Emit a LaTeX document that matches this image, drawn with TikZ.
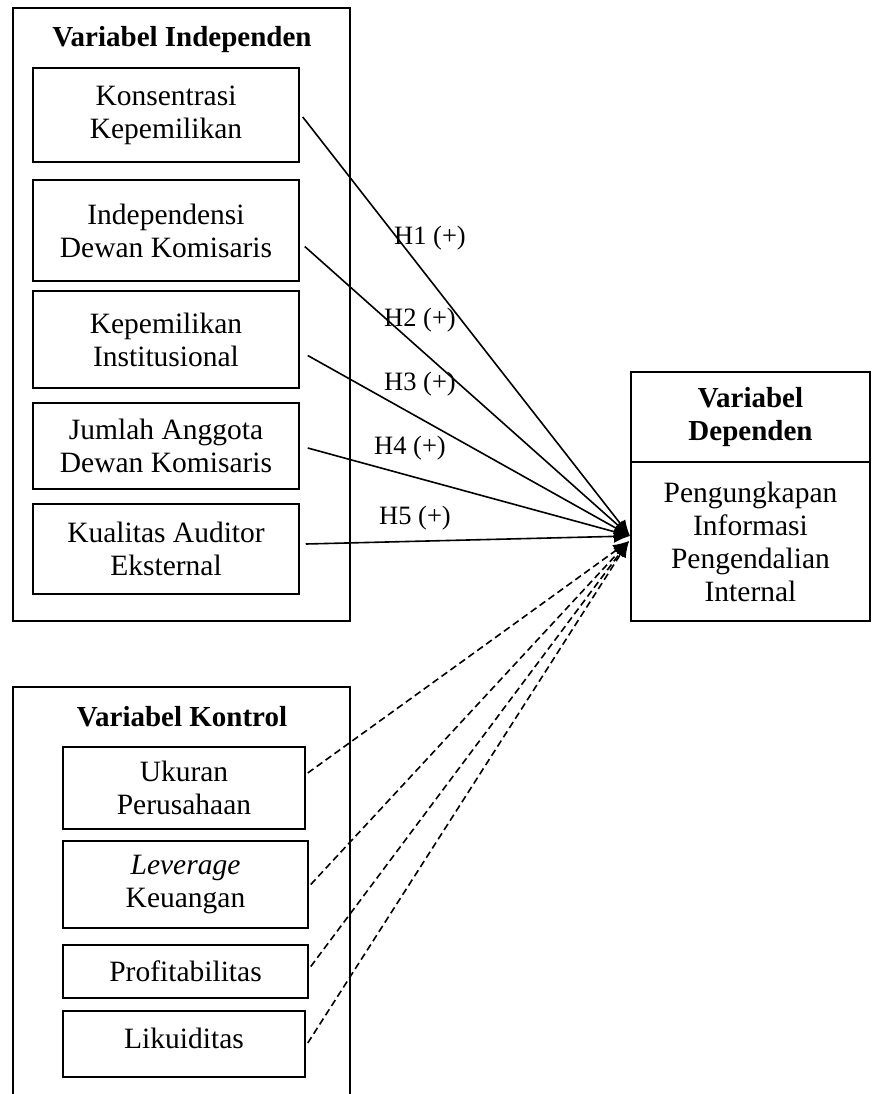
\documentclass[tikz,border=0pt]{standalone}
\usepackage{fontspec}
\setmainfont{Liberation Serif}
\usetikzlibrary{arrows.meta,calc}
\begin{document}
\begin{tikzpicture}[x=1pt,y=-1pt,
  box/.style={draw,line width=1.5pt,inner sep=0pt,align=center,font=\fontsize{29.5}{33}\selectfont},
  frame/.style={draw,line width=1.5pt,inner sep=0pt},
  title/.style={font=\fontsize{29}{33}\selectfont\bfseries,align=center},
  hyp/.style={font=\fontsize{26.5}{30}\selectfont},
  link/.style={line width=1.6pt,-{Latex[length=16pt,width=13pt]}},
  ctrl/.style={link,dash pattern=on 7pt off 4pt}]
\useasboundingbox (0,0) rectangle (871,1094);

% independent frame
\node[frame,minimum width=337pt,minimum height=613pt] (indep) at (181.5,314.5) {};
\node[title] (indeptitle) at (182,40) {Variabel Independen};
\node[box,minimum width=266pt,minimum height=94pt] (k1) at (166,115) {Konsentrasi\\Kepemilikan};
\node[box,minimum width=266pt,minimum height=101pt] (k2) at (166,230.5) {Independensi\\Dewan Komisaris};
\node[box,minimum width=266pt,minimum height=97pt] (k3) at (166,339.5) {Kepemilikan\\Institusional};
\node[box,minimum width=266pt,minimum height=86pt] (k4) at (166,446) {Jumlah Anggota\\Dewan Komisaris};
\node[box,minimum width=266pt,minimum height=90pt] (k5) at (166,549) {Kualitas Auditor\\Eksternal};

% dependent
\node[box,minimum width=239pt,minimum height=90pt,font=\fontsize{29}{33}\selectfont\bfseries] (dtop) at (750.5,417) {Variabel\\Dependen};
\node[box,minimum width=239pt,minimum height=159pt] (dbot) at (750.5,541.5) {Pengungkapan\\Informasi\\Pengendalian\\Internal};
\coordinate (tip) at (630,536);
\coordinate (tipd) at (629,541);

% control frame (open at the bottom)
\coordinate (cf1) at (13,1100);
\coordinate (cf2) at (350,1100);
\draw[line width=1.5pt] (cf1) |- (181.5,687) -| (cf2);
\node[title] (ctrltitle) at (182,717) {Variabel Kontrol};
\node[box,minimum width=242pt,minimum height=82pt] (c1) at (184,788) {Ukuran\\Perusahaan};
\node[box,minimum width=245pt,minimum height=87pt] (c2) at (185.5,884.5) {\textit{Leverage}\\Keuangan};
\node[box,minimum width=245pt,minimum height=53pt] (c3) at (185.5,971.5) {Profitabilitas};
\node[box,minimum width=242pt,minimum height=66pt,text height=20pt,text depth=12pt] (c4) at (184,1044) {Likuiditas};

% hypothesis links
\draw[link] ($(k1.east)+(3,2)$) -- (tip);
\draw[link] ($(k2.east)+(5,16)$) -- (tip);
\draw[link] ($(k3.east)+(8,16)$) -- (tip);
\draw[link] ($(k4.east)+(8,2)$) -- (tip);
\draw[link] ($(k5.east)+(6,-5)$) -- (tip);

\node[hyp] (h1) at (430,238) {H1 (+)};
\node[hyp] (h2) at (420,320) {H2 (+)};
\node[hyp] (h3) at (420,384) {H3 (+)};
\node[hyp] (h4) at (410,448) {H4 (+)};
\node[hyp] (h5) at (415,518) {H5 (+)};

% control links
\draw[ctrl] ($(c1.east)+(2,-15)$) -- (tipd);
\draw[ctrl] ($(c2.east)+(2,0)$) -- (tipd);
\draw[ctrl] ($(c3.east)+(2,-5)$) -- (tipd);
\draw[ctrl] ($(c4.east)+(2,-1)$) -- (tipd);
\end{tikzpicture}
\end{document}
